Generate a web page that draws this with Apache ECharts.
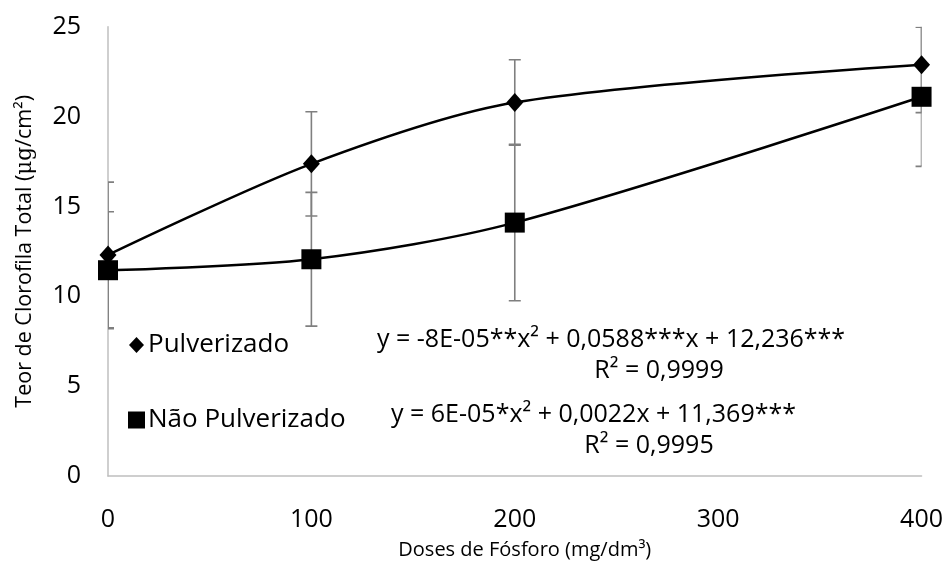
<!DOCTYPE html>
<html>
<head>
<meta charset="utf-8">
<script src="https://cdn.jsdelivr.net/npm/echarts@6/dist/echarts.min.js"></script>
<style>html,body{margin:0;padding:0;background:#fff}#c{width:946px;height:565px}</style>
</head>
<body>
<div id="c"></div>
<script>
// Data
var doses = [0, 100, 200, 400];
var pulverizado = [12.3, 17.37, 20.78, 22.88];
var pulverizadoErr = [4.05, 2.9, 2.38, 2.66];
var naoPulverizado = [11.45, 12.06, 14.1, 21.1];
var naoPulverizadoErr = [3.25, 3.72, 4.35, 3.87];
var xTicks = [0, 100, 200, 300, 400];
var yTicks = [0, 5, 10, 15, 20, 25];
var eqPulv = 'y = -8E-05**x\u00b2 + 0,0588***x + 12,236***';
var r2Pulv = 'R\u00b2 = 0,9999';
var eqNao = 'y = 6E-05*x\u00b2 + 0,0022x + 11,369***';
var r2Nao = 'R\u00b2 = 0,9995';

var FONT = '"Open Sans", sans-serif';
var FS = 25;

function pairs(xs, ys) { return xs.map(function (x, i) { return [x, ys[i]]; }); }
function errData(xs, ys, es) { return xs.map(function (x, i) { return [x, ys[i] - es[i], ys[i] + es[i]]; }); }

function renderErr(params, api) {
  var x = api.value(0);
  var lo = api.coord([x, api.value(1)]);
  var hi = api.coord([x, api.value(2)]);
  var w = 6;
  var cs = params.coordSys;
  var st = { stroke: '#7f7f7f', lineWidth: 1.6 };
  return {
    type: 'group',
    clipPath: { type: 'rect', shape: { x: cs.x, y: cs.y, width: cs.width, height: cs.height } },
    children: [
      { type: 'line', shape: { x1: lo[0], y1: lo[1], x2: hi[0], y2: hi[1] }, style: st },
      { type: 'line', shape: { x1: lo[0] - w, y1: lo[1], x2: lo[0] + w, y2: lo[1] }, style: st },
      { type: 'line', shape: { x1: hi[0] - w, y1: hi[1], x2: hi[0] + w, y2: hi[1] }, style: st }
    ]
  };
}

var chart = echarts.init(document.getElementById('c'), null, { renderer: 'canvas' });
chart.setOption({
  animation: false,
  backgroundColor: '#fff',
  grid: { left: 108, right: 24, top: 26.7, bottom: 87, containLabel: false },
  xAxis: {
    type: 'value', min: 0, max: 400, interval: 100,
    axisLine: { show: true, lineStyle: { color: '#bfbfbf', width: 1.5 } },
    axisTick: { show: false },
    splitLine: { show: false },
    axisLabel: { color: '#000', fontSize: FS, fontFamily: FONT, margin: 31,
      formatter: function (v) { return xTicks.indexOf(v) >= 0 ? String(v) : ''; } },
    name: 'Doses de F\u00f3sforo (mg/dm\u00b3)',
    nameLocation: 'middle', nameGap: 64,
    nameTextStyle: { color: '#000', fontSize: 20, fontFamily: FONT, padding: [0, 0, 0, 20] }
  },
  yAxis: {
    type: 'value', min: 0, max: 25, interval: 5,
    axisLine: { show: true, lineStyle: { color: '#bfbfbf', width: 1.5 } },
    axisTick: { show: false },
    splitLine: { show: false },
    axisLabel: { color: '#000', fontSize: FS, fontFamily: FONT, margin: 27,
      formatter: function (v) { return yTicks.indexOf(v) >= 0 ? String(v) : ''; } },
    name: '{a|Teor de Clorofila Total (}{b|\u03bcg}{a|/cm\u00b2)}',
    nameLocation: 'middle', nameGap: 72,
    nameTextStyle: {
      rich: {
        a: { color: '#000', fontSize: 21.5, fontFamily: FONT },
        b: { color: '#000', fontSize: 21.5, fontFamily: '"DejaVu Serif", "Liberation Serif", serif' }
      }
    }
  },
  legend: {
    orient: 'vertical', left: 123, top: 327, itemGap: 49,
    itemWidth: 17, itemHeight: 17,
    textStyle: { color: '#000', fontSize: 26, fontFamily: FONT, lineHeight: 26, padding: [0, 0, 0, -2] },
    data: [
      { name: 'Pulverizado', icon: 'path://M0,0 M17,17 M8.5,0.5 L16,8.5 L8.5,16.5 L1,8.5 Z' },
      { name: 'N\u00e3o Pulverizado', icon: 'rect' }
    ]
  },
  series: [
    {
      name: 'errPulv', type: 'custom', z: 1,
      renderItem: renderErr, data: errData(doses, pulverizado, pulverizadoErr), silent: true
    },
    {
      name: 'errNao', type: 'custom', z: 1,
      renderItem: renderErr, data: errData(doses, naoPulverizado, naoPulverizadoErr), silent: true
    },
    {
      name: 'Pulverizado', type: 'line', smooth: 0.3, z: 3,
      data: pairs(doses, pulverizado),
      symbol: 'diamond', symbolSize: [17, 19],
      lineStyle: { color: '#000', width: 2.5 },
      itemStyle: { color: '#000' }
    },
    {
      name: 'N\u00e3o Pulverizado', type: 'line', smooth: 0.3, z: 3,
      data: pairs(doses, naoPulverizado),
      symbol: 'rect', symbolSize: 20,
      lineStyle: { color: '#000', width: 2.5 },
      itemStyle: { color: '#000' }
    }
  ],
  graphic: [
    { type: 'text', x: 377, y: 340, style: { text: eqPulv, fill: '#000', fontSize: FS, fontFamily: FONT, align: 'left', verticalAlign: 'middle' } },
    { type: 'text', x: 659, y: 371, style: { text: r2Pulv, fill: '#000', fontSize: FS, fontFamily: FONT, align: 'center', verticalAlign: 'middle' } },
    { type: 'text', x: 391, y: 415, style: { text: eqNao, fill: '#000', fontSize: FS, fontFamily: FONT, align: 'left', verticalAlign: 'middle' } },
    { type: 'text', x: 649, y: 446, style: { text: r2Nao, fill: '#000', fontSize: FS, fontFamily: FONT, align: 'center', verticalAlign: 'middle' } }
  ]
});
</script>
</body>
</html>
